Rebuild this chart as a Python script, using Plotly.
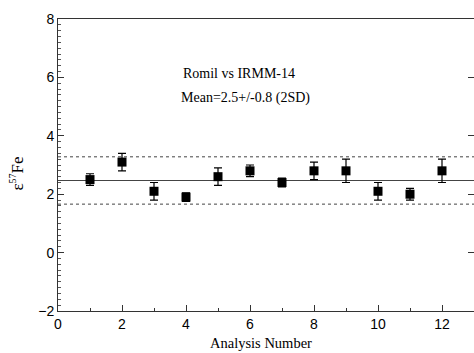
import plotly.graph_objects as go

analysis = [1, 2, 3, 4, 5, 6, 7, 8, 9, 10, 11, 12]
eps57 = [2.5, 3.1, 2.1, 1.9, 2.6, 2.8, 2.4, 2.8, 2.8, 2.1, 2.0, 2.8]
err = [0.2, 0.3, 0.3, 0.15, 0.3, 0.2, 0.15, 0.3, 0.4, 0.3, 0.2, 0.4]
mean_val = 2.47
sd2 = 0.81
x_span = [0, 13]

SERIF = "Liberation Serif, Times New Roman, serif"
SANS = "Liberation Sans, Arial, sans-serif"

fig = go.Figure()
fig.add_trace(go.Scatter(x=x_span, y=[mean_val, mean_val], mode="lines",
                         line=dict(color="#444", width=1.2), showlegend=False))
for v in (mean_val + sd2, mean_val - sd2):
    fig.add_trace(go.Scatter(x=x_span, y=[v, v], mode="lines",
                             line=dict(color="#444", width=1, dash="dot"), showlegend=False))
fig.add_trace(go.Scatter(
    x=analysis, y=eps57, mode="markers",
    marker=dict(symbol="square", size=9, color="black"),
    error_y=dict(type="data", array=err, visible=True, color="black", thickness=1.2, width=4),
    showlegend=False))
fig.add_trace(go.Scatter(x=[None], y=[None], yaxis="y2", showlegend=False))

def note(x, y, text, size, angle=0):
    fig.add_annotation(x=x, y=y, xref="paper", yref="paper", showarrow=False,
                       xanchor="center", yanchor="middle", textangle=angle,
                       text=text, font=dict(family=SERIF, size=size, color="black"))

note(0.435, 0.815, "Romil vs IRMM-14", 14)
note(0.45, 0.73, "Mean=2.5+/-0.8 (2SD)", 14)
note(-0.099, 0.47, "ε<sup><span style='font-size:10px'>57</span></sup>Fe", 17, -90)
note(0.488, -0.11, "Analysis Number", 14.5)

fig.update_layout(
    width=474, height=353,
    margin=dict(l=58, r=0, t=19, b=42),
    paper_bgcolor="white", plot_bgcolor="white",
    xaxis=dict(range=[0, 13], dtick=2, tick0=0, ticks="inside", ticklen=6, tickcolor="#333",
               showline=True, linecolor="#333", linewidth=1, mirror=True, showgrid=False, zeroline=False,
               automargin=False,
               minor=dict(dtick=1, ticks="inside", ticklen=3, tickcolor="#333"),
               tickfont=dict(family=SANS, size=14, color="black")),
    yaxis=dict(range=[-2, 8], dtick=2, ticks="inside", ticklen=6, tickcolor="#333",
               showline=True, linecolor="#333", linewidth=1, mirror=True, showgrid=False, zeroline=False,
               automargin=False,
               minor=dict(dtick=0.2, ticks="inside", ticklen=3, tickcolor="#555"),
               tickfont=dict(family=SANS, size=14, color="black")),
    yaxis2=dict(range=[-2, 8], dtick=2, overlaying="y", side="right", ticks="inside", ticklen=6,
                tickcolor="#333", showticklabels=False, showgrid=False, zeroline=False, automargin=False),
)
fig.write_html("out.html", config={"displayModeBar": False},
               post_script="document.body.style.margin='0';document.body.style.overflow='hidden';")
